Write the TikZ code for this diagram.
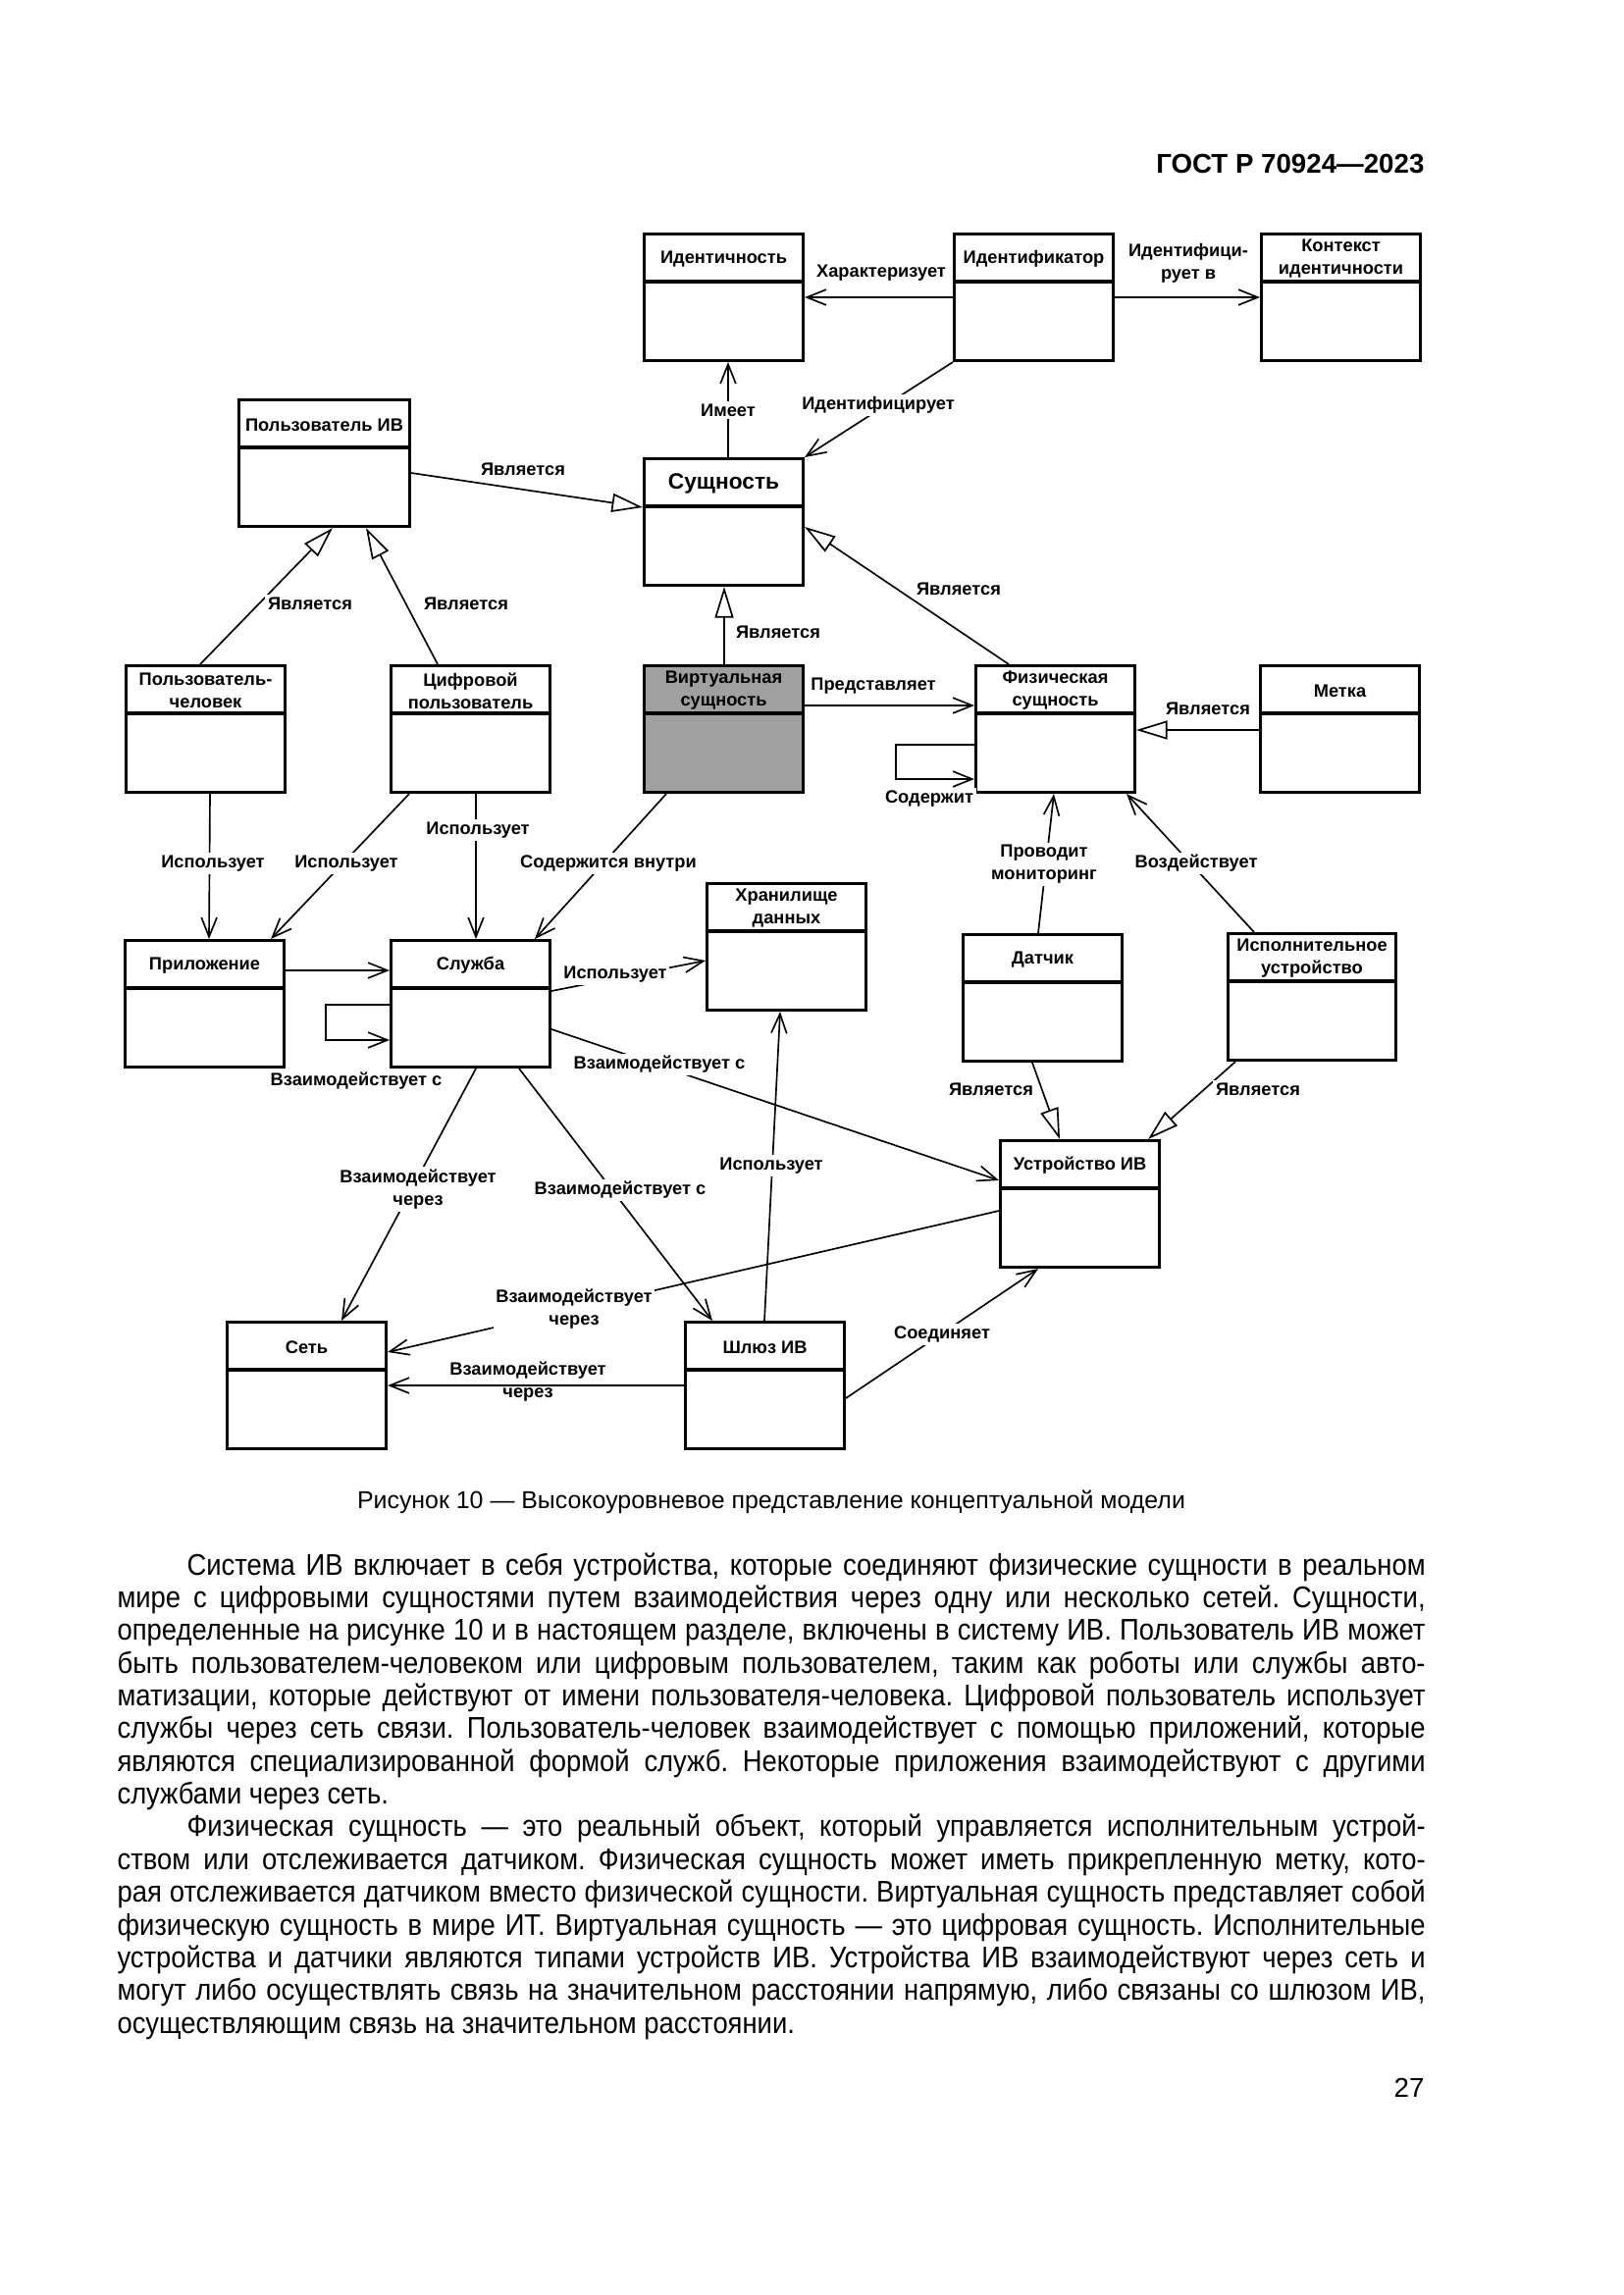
\documentclass[tikz,border=0pt]{standalone}
\usepackage{fontspec}
\setmainfont{Liberation Sans}
\newfontfamily\bodyfont{Liberation Sans}[FakeStretch=0.9]
\usetikzlibrary{arrows.meta,calc}
\frenchspacing

\definecolor{virtgrey}{RGB}{160,160,160}
\newcommand{\diagfont}{\bfseries\fontsize{6.6}{8.3}\selectfont}
% class box: [extra style]{name}{x}{y}{title}
\newcommand{\umlbox}[5][]{%
  \node[cls,#1,anchor=north west] (#2) at (#3,#4) {};
  \draw[clsline] ($(#2.north west)+(0,50)$) -- ($(#2.north east)+(0,50)$);
  \node[hdr] (#2-t) at ($(#2.north)+(0,27)$) {#5};
}

\begin{document}
\begin{tikzpicture}[x=0.12697mm,y=-0.12697mm,
  cls/.style={draw,line width=1.1pt,fill=white,inner sep=0pt,
    minimum width=162*0.12697mm,minimum height=129*0.12697mm},
  clsline/.style={line width=1.1pt},
  hdr/.style={font=\diagfont,align=center,inner sep=0pt},
  lbl/.style={font=\diagfont,align=center,fill=white,inner sep=1pt},
  assoc/.style={line width=0.6pt,-{Straight Barb[length=2.5mm,width=2mm]}},
  isa/.style={line width=0.6pt,-{Triangle[open,length=4mm,width=2.4mm,fill=white]}},
  txt/.style={anchor=base west,inner sep=0pt,font=\bodyfont\fontsize{11}{13}\selectfont}]
\useasboundingbox (0,0) rectangle (1654,2339);
\fill[white] (0,0) rectangle (1654,2339);

\node[anchor=base east,inner sep=0pt,font=\bfseries\fontsize{10}{12}\selectfont] (gost) at (1452,177) {ГОСТ Р 70924—2023};

% boxes
\umlbox{ident}{655}{237}{Идентичность}
\umlbox{idf}{971}{237}{Идентификатор}
\umlbox{ctx}{1284}{237}{Контекст\\идентичности}
\umlbox[minimum width=174*0.12697mm]{user}{242}{406}{Пользователь ИВ}
\umlbox{ent}{655}{466}{\fontsize{8.2}{10}\selectfont Сущность}
\umlbox{human}{127}{677}{Пользователь-\\человек}
\umlbox{digital}{397}{677}{Цифровой\\пользователь}
\umlbox[fill=virtgrey]{virt}{655}{677}{Виртуальная\\сущность}
\umlbox{phys}{993}{677}{Физическая\\сущность}
\umlbox{tag}{1283}{677}{Метка}
\umlbox{store}{719}{899}{Хранилище\\данных}
\umlbox{app}{126}{957}{Приложение}
\umlbox{svc}{397}{957}{Служба}
\umlbox{sensor}{980}{951}{Датчик}
\umlbox[minimum width=171*0.12697mm]{act}{1250}{950}{Исполнительное\\устройство}
\umlbox{dev}{1018}{1161}{Устройство ИВ}
\umlbox{net}{230}{1346}{Сеть}
\umlbox{gw}{697}{1346}{Шлюз ИВ}

% generalisations
\draw[isa] ($(user.north east)+(0,76)$) -- ($(ent.north west)+(0,51)$);
\draw[isa] ($(human.north west)+(77,0)$) -- ($(user.south west)+(97,0)$);
\draw[isa] ($(digital.north west)+(49,0)$) -- ($(user.south west)+(131,0)$);
\draw[isa] ($(virt.north west)+(83,0)$) -- ($(ent.south west)+(83,0)$);
\draw[isa] ($(phys.north west)+(35,0)$) -- ($(ent.north east)+(0,71)$);
\draw[isa] ($(tag.north west)+(0,67)$) -- ($(phys.north east)+(0,67)$);
\draw[isa] ($(sensor.south west)+(72,0)$) -- ($(dev.north west)+(62,0)$);
\draw[isa] ($(act.south west)+(9,0)$) -- ($(dev.north east)+(-13,0)$);

% associations
\draw[assoc] (idf.west) -- (ident.east);
\draw[assoc] (idf.east) -- (ctx.west);
\draw[assoc] ($(ent.north west)+(87,0)$) -- ($(ident.south west)+(87,0)$);
\draw[assoc] (idf.south west) -- (ent.north east);
\draw[assoc] ($(virt.north east)+(0,42)$) -- ($(phys.north west)+(0,42)$);
\draw[assoc] ($(phys.north west)+(0,82)$) -- ++(-80,0) |- ($(phys.north west)+(0,117)$);
\draw[assoc] ($(sensor.north west)+(78,0)$) -- ($(phys.south west)+(81,0)$);
\draw[assoc] ($(act.north west)+(28,0)$) -- ($(phys.south east)+(-10,0)$);
\draw[assoc] ($(human.south west)+(87,0)$) -- ($(app.north west)+(87,0)$);
\draw[assoc] ($(digital.south west)+(20,0)$) -- ($(app.north west)+(150,0)$);
\draw[assoc] ($(digital.south west)+(88,0)$) -- ($(svc.north west)+(88,0)$);
\draw[assoc] ($(virt.south west)+(24,0)$) -- ($(svc.north west)+(148,0)$);
\draw[assoc] ($(app.north east)+(0,32)$) -- ($(svc.north west)+(0,32)$);
\draw[assoc] ($(svc.north west)+(0,67)$) -- ++(-65,0) |- ($(svc.north west)+(0,103)$);
\draw[assoc] ($(svc.north east)+(0,53)$) -- ($(store.north west)+(0,80)$);
\draw[assoc] ($(svc.north east)+(0,92)$) -- ($(dev.north west)+(0,42)$);
\draw[assoc] ($(svc.south west)+(88,0)$) -- ($(net.north west)+(118,0)$);
\draw[assoc] ($(svc.south west)+(132,0)$) -- ($(gw.north west)+(29,0)$);
\draw[assoc] ($(gw.north west)+(82,0)$) -- ($(store.south west)+(76,0)$);
\draw[assoc] ($(dev.north west)+(0,73)$) -- ($(net.north east)+(0,32)$);
\draw[assoc] (gw.west) -- (net.east);
\draw[assoc] ($(gw.north east)+(0,79)$) -- ($(dev.south west)+(40,0)$);

% labels
\node[lbl] (lchar) at (898,278) {Характеризует};
\node[lbl] (lidin) at (1211,268) {Идентифици-\\рует в};
\node[lbl] (lhas) at (742,418) {Имеет};
\node[lbl] (lidf) at (895,413) {Идентифицирует};
\node[lbl] (lisa1) at (533,478) {Является};
\node[lbl] (lisa2) at (316,615) {Является};
\node[lbl] (lisa3) at (475,615) {Является};
\node[lbl] (lisa4) at (793,644) {Является};
\node[lbl] (lisa5) at (977,600) {Является};
\node[lbl] (lrep) at (890,699) {Представляет};
\node[lbl] (lcont) at (947,814) {Содержит};
\node[lbl] (lisa6) at (1231,722) {Является};
\node[lbl] (lmon) at (1064,881) {Проводит\\мониторинг};
\node[lbl] (lact) at (1219,880) {Воздействует};
\node[lbl] (luse1) at (217,880) {Использует};
\node[lbl] (luse2) at (353,880) {Использует};
\node[lbl] (luse3) at (487,846) {Использует};
\node[lbl] (lin) at (620,880) {Содержится внутри};
\node[lbl] (lloop) at (363,1102) {Взаимодействует с};
\node[lbl] (luse4) at (627,993) {Использует};
\node[lbl] (lint1) at (672,1085) {Взаимодействует с};
\node[lbl] (lvia1) at (426,1212) {Взаимодействует\\через};
\node[lbl] (lint2) at (632,1213) {Взаимодействует с};
\node[lbl] (luse5) at (786,1188) {Использует};
\node[lbl] (lvia2) at (585,1334) {Взаимодействует\\через};
\node[lbl,fill=none] (lvia3) at (538,1408) {Взаимодействует\\через};
\node[lbl] (lconn) at (960,1360) {Соединяет};
\node[lbl] (lisa7) at (1010,1110) {Является};
\node[lbl] (lisa8) at (1282,1110) {Является};

\node[anchor=base,inner sep=0pt,font=\fontsize{9}{11}\selectfont] (caption) at (786,1537) {Рисунок 10 — Высокоуровневое представление концептуальной модели};

% text below the figure
\node[txt] (p1) at (190,1605) {\makebox[160.24mm][s]{Система ИВ включает в себя устройства, которые соединяют физические сущности в реальном}};
\node[txt] (p2) at (119,1638.4) {\makebox[169.25mm][s]{мире с цифровыми сущностями путем взаимодействия через одну или несколько сетей. Сущности,}};
\node[txt] (p3) at (119,1671.7) {\makebox[169.25mm][s]{определенные на рисунке 10 и в настоящем разделе, включены в систему ИВ. Пользователь ИВ может}};
\node[txt] (p4) at (119,1705.1) {\makebox[169.25mm][s]{быть пользователем-человеком или цифровым пользователем, таким как роботы или службы авто-}};
\node[txt] (p5) at (119,1738.4) {\makebox[169.25mm][s]{матизации, которые действуют от имени пользователя-человека. Цифровой пользователь использует}};
\node[txt] (p6) at (119,1771.8) {\makebox[169.25mm][s]{службы через сеть связи. Пользователь-человек взаимодействует с помощью приложений, которые}};
\node[txt] (p7) at (119,1805.2) {\makebox[169.25mm][s]{являются специализированной формой служб. Некоторые приложения взаимодействуют с другими}};
\node[txt] (p8) at (119,1838.5) {службами через сеть.};
\node[txt] (p9) at (190,1871.9) {\makebox[160.24mm][s]{Физическая сущность — это реальный объект, который управляется исполнительным устрой-}};
\node[txt] (p10) at (119,1905.2) {\makebox[169.25mm][s]{ством или отслеживается датчиком. Физическая сущность может иметь прикрепленную метку, кото-}};
\node[txt] (p11) at (119,1938.6) {\makebox[169.25mm][s]{рая отслеживается датчиком вместо физической сущности. Виртуальная сущность представляет собой}};
\node[txt] (p12) at (119,1972) {\makebox[169.25mm][s]{физическую сущность в мире ИТ. Виртуальная сущность — это цифровая сущность. Исполнительные}};
\node[txt] (p13) at (119,2005.3) {\makebox[169.25mm][s]{устройства и датчики являются типами устройств ИВ. Устройства ИВ взаимодействуют через сеть и}};
\node[txt] (p14) at (119,2038.7) {\makebox[169.25mm][s]{могут либо осуществлять связь на значительном расстоянии напрямую, либо связаны со шлюзом ИВ,}};
\node[txt] (p15) at (119,2072) {осуществляющим связь на значительном расстоянии.};

\node[anchor=base east,inner sep=0pt,font=\fontsize{10}{12}\selectfont] (pnum) at (1452,2137) {27};
\end{tikzpicture}
\end{document}
